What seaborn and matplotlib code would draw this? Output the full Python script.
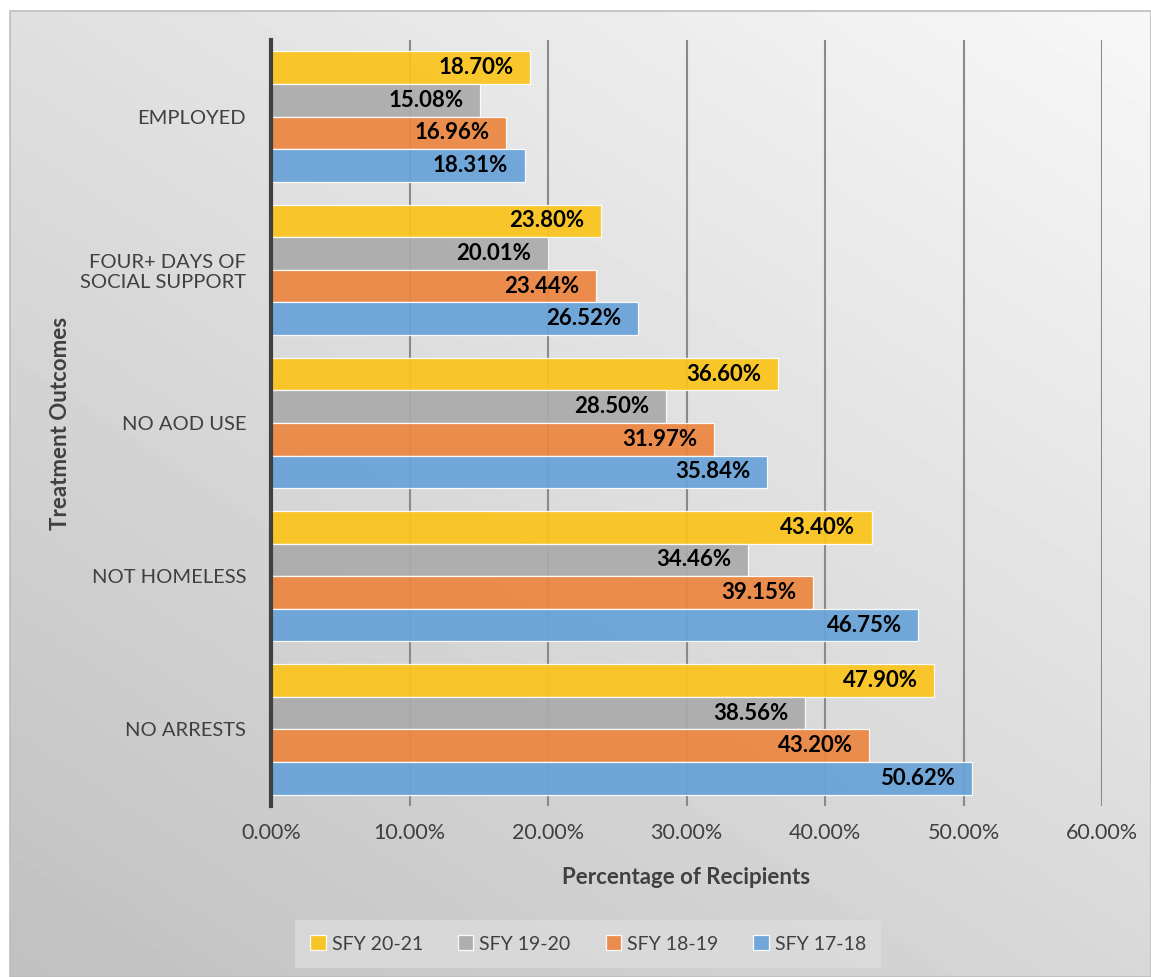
import numpy as np
import pandas as pd
import matplotlib
matplotlib.use('Agg')
import matplotlib.pyplot as plt
from matplotlib.patches import Rectangle
import seaborn as sns

outcomes = ['EMPLOYED', 'FOUR+ DAYS OF\nSOCIAL SUPPORT', 'NO AOD USE', 'NOT HOMELESS', 'NO ARRESTS']
years = ['SFY 20-21', 'SFY 19-20', 'SFY 18-19', 'SFY 17-18']
sfy_20_21 = [18.70, 23.80, 36.60, 43.40, 47.90]
sfy_19_20 = [15.08, 20.01, 28.50, 34.46, 38.56]
sfy_18_19 = [16.96, 23.44, 31.97, 39.15, 43.20]
sfy_17_18 = [18.31, 26.52, 35.84, 46.75, 50.62]
colors = ['#FBC41C', '#ABABAB', '#EC8641', '#68A2D8']
xticks = [0, 10, 20, 30, 40, 50, 60]

rows = []
for yr, vals in zip(years, [sfy_20_21, sfy_19_20, sfy_18_19, sfy_17_18]):
    for oc, v in zip(outcomes, vals):
        rows.append({'Outcome': oc, 'Year': yr, 'Pct': v})
df = pd.DataFrame(rows)

sns.set_style('white')
plt.rcParams['font.family'] = ['Lato', 'DejaVu Sans']
text_col = '#404040'

W, H = 1151, 977
fig = plt.figure(figsize=(W / 100, H / 100), dpi=100, facecolor='white')

# gradient chart-area background with thin border
bg = fig.add_axes([10 / W, 0, 1 - 10 / W, 1 - 11 / H], zorder=-5)
xx, yy = np.meshgrid(np.linspace(10, W, 300), np.linspace(11, H, 300))
grad = 247 - 0.021 * (W - 10 - xx) - 0.032 * (yy - 11)
bg.imshow(grad, cmap='gray', vmin=0, vmax=255, aspect='auto',
          extent=[0, 1, 0, 1], origin='upper')
bg.set_xlim(0, 1)
bg.set_ylim(0, 1)
bg.axis('off')
fig.add_artist(Rectangle((10 / W, 0), 1 - 10 / W, 1 - 11 / H, transform=fig.transFigure,
                         fill=False, edgecolor='#BDBDBD', linewidth=1.2))

ax = fig.add_axes([271 / W, 1 - 806 / H, (1102 - 271) / W, (806 - 40) / H])
ax.set_facecolor('none')

sns.barplot(data=df, x='Pct', y='Outcome', hue='Year', hue_order=years,
            order=outcomes, palette=colors, orient='h', width=0.85, saturation=1,
            alpha=0.93, edgecolor='white', linewidth=0.9, ax=ax)

ax.set_xlim(0, 60)
ax.set_ylim(4.5, -0.5)
ax.set_xticks(xticks)
ax.set_xticklabels([f'{t:.2f}%' for t in xticks], fontsize=15.5, color=text_col)
ax.tick_params(axis='x', length=0, pad=12)
ax.tick_params(axis='y', length=0, pad=18, labelsize=14.5, labelcolor=text_col)
for lbl in ax.get_yticklabels():
    lbl.set_multialignment('right')

ax.grid(axis='x', color='#8A8A8A', linewidth=1.5)
ax.set_axisbelow(True)
for s in ['top', 'right', 'bottom']:
    ax.spines[s].set_visible(False)
ax.spines['left'].set_color('#404040')
ax.spines['left'].set_linewidth(3)

# data labels at inside end
for container in ax.containers:
    for bar in container:
        w = bar.get_width()
        ax.annotate(f'{w:.2f}%', xy=(w, bar.get_y() + bar.get_height() / 2),
                    xytext=(-12, 0), textcoords='offset points', ha='right', va='center',
                    fontsize=16, fontweight='bold', color='black')

ax.set_xlabel('Percentage of Recipients', fontsize=16, fontweight='bold', color=text_col)
ax.set_ylabel('Treatment Outcomes', fontsize=16, fontweight='bold', color=text_col)
ax.xaxis.set_label_coords(0.5, -0.079)
ax.yaxis.set_label_coords(-0.241, 0.5)

handles, labels = ax.get_legend_handles_labels()
ax.legend_.remove()
leg = fig.legend(handles, labels, loc='center', bbox_to_anchor=(588 / W, 1 - 944 / H),
                 ncol=4, frameon=True, fontsize=14, handlelength=0.8, handleheight=0.8,
                 handletextpad=0.3, columnspacing=1.8, borderpad=0.8, fancybox=False)
leg.get_frame().set_facecolor('#DCDCDC')
leg.get_frame().set_edgecolor('none')
for t in leg.get_texts():
    t.set_color(text_col)

plt.savefig('out.png', dpi=100, facecolor='white')
